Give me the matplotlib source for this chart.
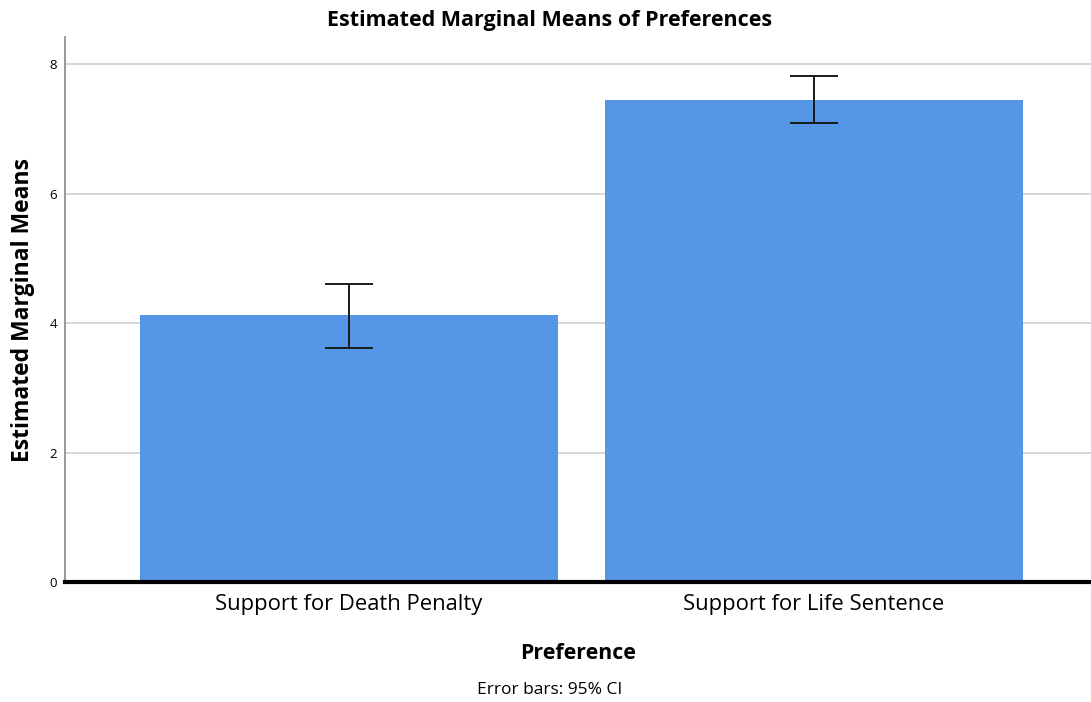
import numpy as np
import matplotlib.pyplot as plt

categories = ['Support for Death Penalty', 'Support for Life Sentence']
means = [4.12, 7.45]
ci_lower = [3.62, 7.09]
ci_upper = [4.61, 7.82]
yticks = [0, 2, 4, 6, 8]

plt.rcParams['font.family'] = ['Open Sans', 'DejaVu Sans']

fig = plt.figure(figsize=(10.91, 7.02), dpi=100)
ax = fig.add_axes([0.0596, 0.171, 0.9404, 0.776])

x = np.arange(len(categories))
means = np.array(means)
err = [means - np.array(ci_lower), np.array(ci_upper) - means]

ax.bar(x, means, width=0.9, color='#5596e6', zorder=2)
ax.errorbar(x, means, yerr=err, fmt='none', ecolor='#1a1a1a', elinewidth=1.4,
            capsize=17.5, capthick=1.4, zorder=3)

ax.set_xlim(-0.611, 1.596)
ax.set_ylim(0, 8.42)
ax.set_yticks(yticks)
ax.set_yticklabels([str(t) for t in yticks], fontsize=9.5)
ax.set_xticks(x)
ax.set_xticklabels(categories, fontsize=15.8)
ax.tick_params(axis='y', length=0, pad=6)
ax.tick_params(axis='x', length=0, pad=9)

for t in yticks[1:]:
    ax.axhline(t, color='#d0d0d0', linewidth=1.2, zorder=1)

for side in ['top', 'right']:
    ax.spines[side].set_visible(False)
ax.spines['left'].set_color('#888888')
ax.spines['left'].set_linewidth(1.2)
ax.spines['bottom'].set_color('black')
ax.spines['bottom'].set_linewidth(3)
ax.spines['bottom'].set_zorder(4)

ax.set_title('Estimated Marginal Means of Preferences', fontsize=15.5,
             fontweight='bold', pad=8, x=0.4727)
ax.set_ylabel('Estimated Marginal Means', fontsize=16.5, fontweight='bold', labelpad=10)
ax.set_xlabel('Preference', fontsize=15.4, fontweight='bold', labelpad=20)
fig.text(0.5037, 0.017, 'Error bars: 95% CI', fontsize=12.5, ha='center', va='center')

fig.savefig('out.png', dpi=100)
